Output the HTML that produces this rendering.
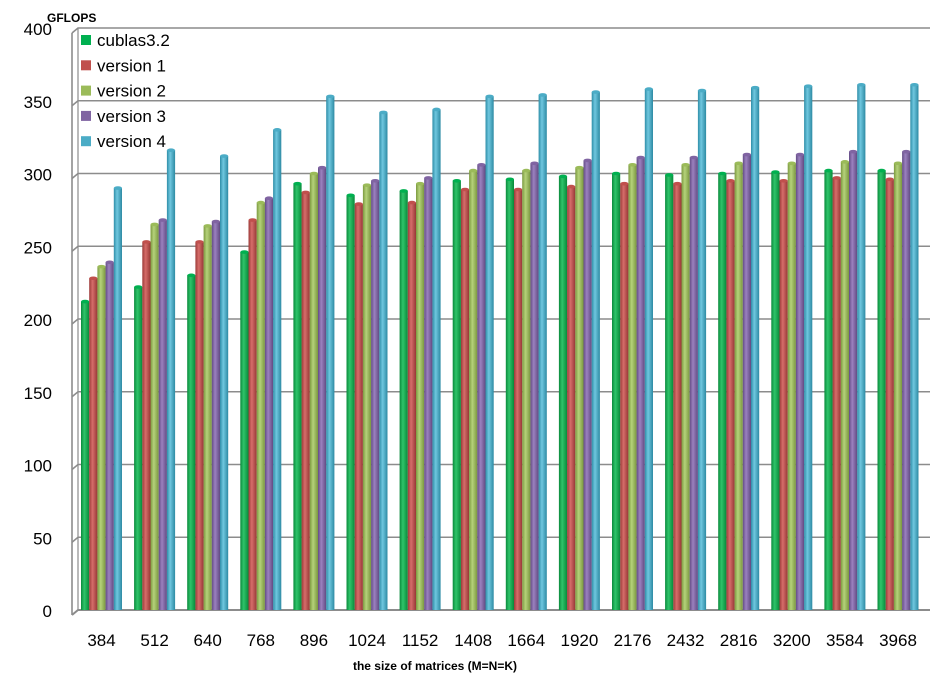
<!DOCTYPE html>
<html><head><meta charset="utf-8"><style>
body{margin:0;background:#fff;}
svg{display:block;font-family:"Liberation Sans",sans-serif;}
</style></head><body>
<svg id="chart" width="950" height="686" viewBox="0 0 950 686">
<defs>
<linearGradient id="g0" x1="0" x2="1"><stop offset="0" stop-color="#0a8a3c"/><stop offset="0.4" stop-color="#2fc46a"/><stop offset="1" stop-color="#088a3a"/></linearGradient>
<linearGradient id="g1" x1="0" x2="1"><stop offset="0" stop-color="#9c3b39"/><stop offset="0.4" stop-color="#d66d6a"/><stop offset="1" stop-color="#973836"/></linearGradient>
<linearGradient id="g2" x1="0" x2="1"><stop offset="0" stop-color="#7c9a40"/><stop offset="0.4" stop-color="#b5d27a"/><stop offset="1" stop-color="#7a973f"/></linearGradient>
<linearGradient id="g3" x1="0" x2="1"><stop offset="0" stop-color="#634c85"/><stop offset="0.4" stop-color="#9b81bf"/><stop offset="1" stop-color="#614a82"/></linearGradient>
<linearGradient id="g4" x1="0" x2="1"><stop offset="0" stop-color="#2f8ea8"/><stop offset="0.4" stop-color="#6fc7df"/><stop offset="1" stop-color="#2d8aa3"/></linearGradient>
</defs>
<g id="grid"></g>
<g id="bars"></g>
<g id="labels"></g>
<text x="47" y="22" font-size="12" font-weight="bold">GFLOPS</text>
<text x="435" y="670" font-size="12" font-weight="bold" text-anchor="middle">the size of matrices (M=N=K)</text>
<g id="legend"></g>
</svg>
<script>
const categories=["384","512","640","768","896","1024","1152","1408","1664","1920","2176","2432","2816","3200","3584","3968"];
const seriesNames=["cublas3.2","version 1","version 2","version 3","version 4"];
const cublas=[212,222,230,246,293,285,288,295,296,298,300,299,300,301,302,302];
const v1=[228,253,253,268,287,279,280,289,289,291,293,293,295,295,297,296];
const v2=[236,265,264,280,300,292,293,302,302,304,306,306,307,307,308,307];
const v3=[239,268,267,283,304,295,297,306,307,309,311,311,313,313,315,315];
const v4=[290,316,312,330,353,342,344,353,354,356,358,357,359,360,361,361];
const yTicks=[0,50,100,150,200,250,300,350,400];
const series=[cublas,v1,v2,v3,v4];
const colors=["#00b050","#c0504d","#9bbb59","#8064a2","#4bacc6"];
const NS="http://www.w3.org/2000/svg";
const y0=610,yTop=28,ymax=400;
const y=v=>y0-(v/ymax)*(y0-yTop);
const x0=81,gw=53.1,bw=8.2;
const x=i=>x0+i*gw;
function mk(t,a,p){const e=document.createElementNS(NS,t);for(const k in a)e.setAttribute(k,a[k]);p.appendChild(e);return e;}
const grid=document.getElementById('grid'),bars=document.getElementById('bars'),labels=document.getElementById('labels'),legend=document.getElementById('legend');
yTicks.forEach(t=>{
  const yy=y(t);
  const l=mk('polyline',{points:`72,${yy+5} 78,${yy} 930,${yy}`,fill:'none',stroke:'#8c8c8c','stroke-width':t===0?2:1.6},grid);
  
  
  const tx=mk('text',{x:52,y:yy+7,'font-size':17,'text-anchor':'end',fill:'#000'},labels);
  tx.textContent=t;
  
  
});
mk('line',{x1:72,y1:33,x2:72,y2:615,stroke:'#8c8c8c','stroke-width':1.6},grid);
mk('line',{x1:78,y1:28,x2:78,y2:610,stroke:'#8c8c8c','stroke-width':1.2},grid);
categories.forEach((c,i)=>{
  series.forEach((s,j)=>{
    const bx=x(i)+j*bw,by=y(s[i]);
    const r=mk('rect',{x:bx,y:by,width:bw,height:y0-by,fill:`url(#g${j})`},bars);
    
    
    mk('ellipse',{cx:bx+bw/2,cy:by,rx:bw/2,ry:1.8,fill:colors[j]},bars);
  });
  const tx=mk('text',{x:x(i)+20.5,y:646,'font-size':17,'text-anchor':'middle'},labels);
  tx.textContent=c;
  
  
});
seriesNames.forEach((n,j)=>{
  const ly=40+j*25.3;
  const r=mk('rect',{x:81,y:ly-5,width:10,height:10,fill:colors[j]},legend);
  
  
  const t=mk('text',{x:97,y:ly+6,'font-size':17},legend);
  t.textContent=n;
  
  
});
</script>
</body></html>
